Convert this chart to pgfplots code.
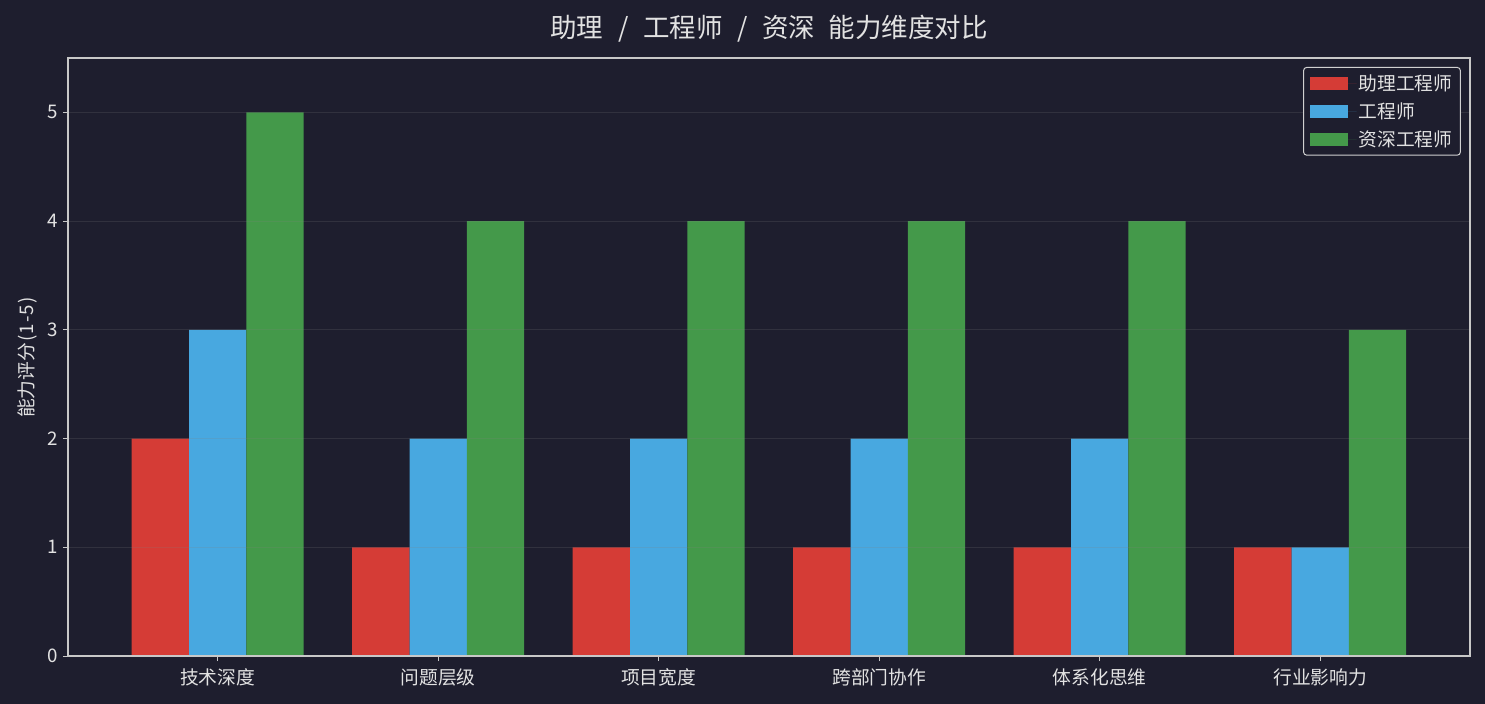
\documentclass[border=0pt]{standalone}
\usepackage{fontspec}
\setmainfont{Noto Sans CJK SC}
\usepackage{pgfplots}
\pgfplotsset{compat=1.18}
\definecolor{bg}{HTML}{1E1E2E}
\definecolor{cred}{HTML}{D53C36}
\definecolor{cblue}{HTML}{48A8E0}
\definecolor{cgreen}{HTML}{44994A}
\definecolor{axcol}{HTML}{C8C8C8}
\definecolor{txt}{HTML}{E2E2E2}
\newcommand\hw[1]{\makebox[0.5em]{#1}}
\begin{document}
\begin{tikzpicture}
\fill[bg] (0,0) rectangle (1485bp,704bp);
\useasboundingbox (0,0) rectangle (1485bp,704bp);
\begin{axis}[
  at={(68bp,48bp)}, anchor=south west,
  scale only axis, width=1402bp, height=598bp,
  xmin=-0.679, xmax=5.679, ymin=0, ymax=5.5,
  ybar, bar width=0.26,
  xtick={0,1,2,3,4,5},
  xticklabels={技术深度,问题层级,项目宽度,跨部门协作,体系化思维,行业影响力},
  ytick={0,1,2,3,4,5},
  xtick pos=lower, ytick pos=left,
  /pgf/number format/assume math mode=true,
  tick align=outside,
  major tick length=5bp,
  tick style={axcol, line width=1bp},
  axis line style={axcol, line width=1.2bp},
  ymajorgrids, xmajorgrids=false,
  grid style={gray, opacity=0.2, line width=1bp},
  axis on top,
  ticklabel style={font=\fontsize{18.75bp}{22bp}\selectfont, text=txt},
  xticklabel style={yshift=-4bp},
  yticklabel style={xshift=-2bp},
  ylabel={能力评分\hw{(}\hw{1}\hw{-}\hw{5}\hw{)}},
  ylabel style={font=\fontsize{18.75bp}{22bp}\selectfont, text=txt, at={(axis description cs:0,0.5)}, anchor=south, yshift=27bp},
  title={助理\hw{ }\hw{/}\hw{ }工程师\hw{ }\hw{/}\hw{ }资深\hw{ }能力维度对比},
  title style={font=\fontsize{26.5bp}{30bp}\selectfont, text=txt, at={(0.5,1)}, anchor=south, yshift=6bp},
  legend style={at={(0.9935,0.985)}, anchor=north east, fill=bg, draw=axcol!85, rounded corners=3bp, line width=1bp,
    font=\fontsize{18.75bp}{22bp}\selectfont, text=txt, row sep=7bp, inner xsep=6bp, inner ysep=5bp},
  legend cell align=left,
]
\addplot[fill=cred, draw=none, bar shift=-0.26,
  legend image code/.code={\fill[cred, sharp corners] (0bp,-6.5bp) rectangle (38bp,6.5bp); \path (0bp,0bp) -- (47bp,0bp);}]
  coordinates {(0,2) (1,1) (2,1) (3,1) (4,1) (5,1)};
\addplot[fill=cblue, draw=none, bar shift=0,
  legend image code/.code={\fill[cblue, sharp corners] (0bp,-6.5bp) rectangle (38bp,6.5bp); \path (0bp,0bp) -- (47bp,0bp);}]
  coordinates {(0,3) (1,2) (2,2) (3,2) (4,2) (5,1)};
\addplot[fill=cgreen, draw=none, bar shift=0.26,
  legend image code/.code={\fill[cgreen, sharp corners] (0bp,-6.5bp) rectangle (38bp,6.5bp); \path (0bp,0bp) -- (47bp,0bp);}]
  coordinates {(0,5) (1,4) (2,4) (3,4) (4,4) (5,3)};
\legend{助理工程师,工程师,资深工程师}
\end{axis}
\end{tikzpicture}
\end{document}
